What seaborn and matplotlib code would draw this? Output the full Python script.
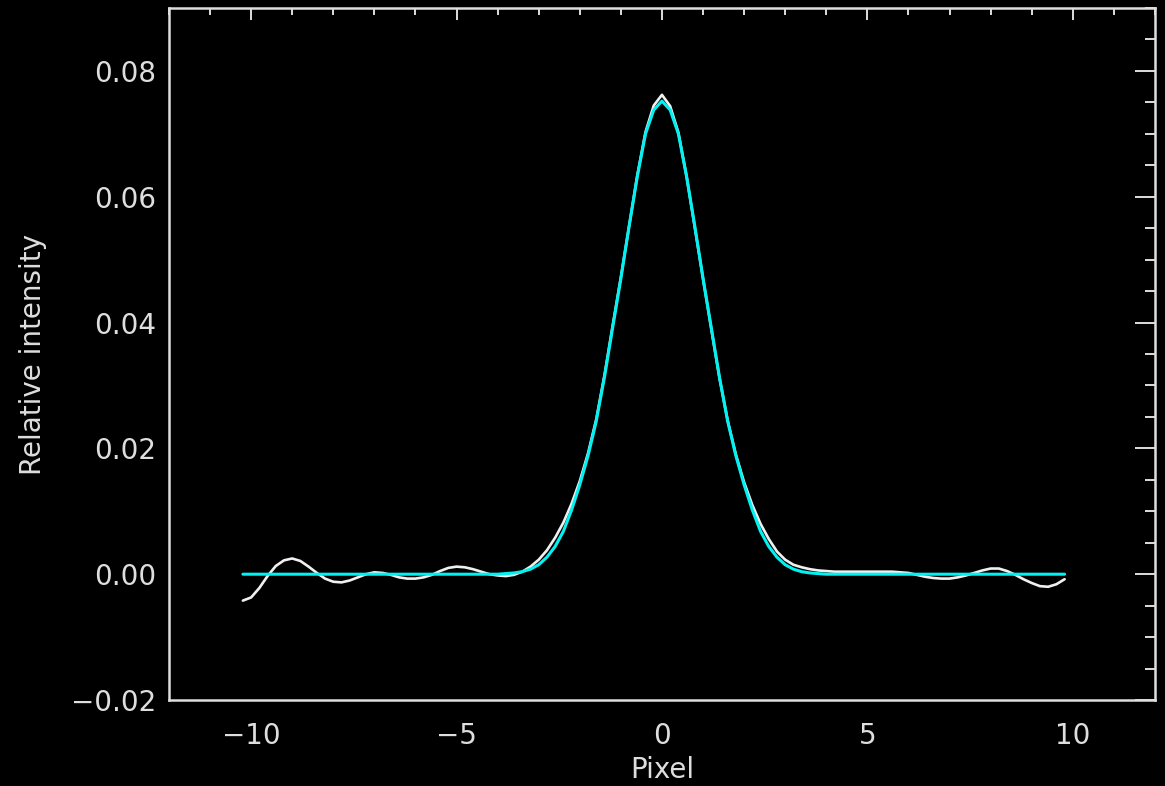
import numpy as np
import matplotlib
matplotlib.use("Agg")
import matplotlib.pyplot as plt
from matplotlib.ticker import MultipleLocator
import seaborn as sns

# sample positions (pixel offsets from centre)
pixel = np.linspace(-10.2, 9.8, 101)

# measured line profile (white)
profile = [
    -0.0042, -0.0037, -0.0022, -0.0003, 0.0013, 0.0022, 0.0025, 0.0021, 0.0012, 0.0002,
    -0.0007, -0.0012, -0.0013, -0.0010, -0.0005, 0.0000, 0.0003, 0.0002, -0.0001, -0.0005,
    -0.0007, -0.0007, -0.0005, -0.0001, 0.0005, 0.0010, 0.0012, 0.0011, 0.0008, 0.0004,
    0.0000, -0.0002,
    -0.0003, -0.0001, 0.0004, 0.0012, 0.0023, 0.0038, 0.0058, 0.0082,
    0.0112, 0.0148, 0.0192, 0.0246, 0.0316, 0.0395, 0.0472, 0.0553, 0.0634, 0.0703,
    0.0745, 0.0762,
    0.0744, 0.0702, 0.0632, 0.0551, 0.0470, 0.0390, 0.0312, 0.0244,
    0.0190, 0.0146, 0.0110, 0.0080, 0.0056, 0.0036, 0.0023, 0.0015, 0.0011, 0.0008,
    0.0006, 0.0005, 0.0004, 0.0004, 0.0004, 0.0004, 0.0004, 0.0004, 0.0004, 0.0004,
    0.0003, 0.0002, -0.0001, -0.0004, -0.0006, -0.0007, -0.0007, -0.0005, -0.0002, 0.0002,
    0.0006, 0.0009, 0.0009, 0.0005, -0.0001, -0.0008, -0.0014, -0.0019, -0.0020, -0.0016,
    -0.0008,
]

# fitted profile (cyan)
fit = [
    0.0, 0.0, 0.0, 0.0, 0.0, 0.0, 0.0, 0.0, 0.0, 0.0,
    0.0, 0.0, 0.0, 0.0, 0.0, 0.0, 0.0, 0.0, 0.0, 0.0,
    0.0, 0.0, 0.0, 0.0, 0.0, 0.0, 0.0, 0.0, 0.0, 0.0,
    0.0, 0.0,
    0.0001, 0.0002, 0.0004, 0.0008, 0.0015, 0.0027, 0.0044, 0.0068,
    0.0102, 0.0142, 0.0188, 0.0243, 0.0313, 0.0392, 0.0470, 0.0553, 0.0632, 0.0700,
    0.0738, 0.0752,
    0.0738, 0.0700, 0.0632, 0.0553, 0.0470, 0.0392, 0.0313, 0.0243,
    0.0188, 0.0142, 0.0102, 0.0068, 0.0044, 0.0027, 0.0015, 0.0008, 0.0004, 0.0002,
    0.0001, 0.0, 0.0, 0.0, 0.0, 0.0, 0.0, 0.0, 0.0, 0.0,
    0.0, 0.0, 0.0, 0.0, 0.0, 0.0, 0.0, 0.0, 0.0, 0.0,
    0.0, 0.0, 0.0, 0.0, 0.0, 0.0, 0.0, 0.0, 0.0, 0.0,
    0.0,
]

fg = "#dedede"
sns.set_theme(style="dark")
plt.rcParams.update({
    "font.family": ["DejaVu Sans"],
    "figure.facecolor": "black",
    "axes.facecolor": "black",
    "axes.edgecolor": fg,
    "axes.labelcolor": fg,
    "xtick.color": fg,
    "ytick.color": fg,
    "text.color": fg,
})

fig = plt.figure(figsize=(11.65, 7.86), dpi=100)
ax = fig.add_axes([0.145, 0.1094, 0.8464, 0.8804])

sns.lineplot(x=pixel, y=profile, ax=ax, color="#f0f0f0", linewidth=1.9, legend=False)
sns.lineplot(x=pixel, y=fit, ax=ax, color="#00f2f2", linewidth=2.2, legend=False)

ax.set_xlim(-12, 12)
ax.set_ylim(-0.02, 0.09)
ax.xaxis.set_major_locator(MultipleLocator(5))
ax.xaxis.set_minor_locator(MultipleLocator(1))
ax.yaxis.set_major_locator(MultipleLocator(0.02))
ax.yaxis.set_minor_locator(MultipleLocator(0.005))

for s in ax.spines.values():
    s.set_linewidth(1.8)
    s.set_color(fg)

ax.tick_params(axis="both", which="both", direction="in", top=True, right=True,
               width=1.4, labelsize=20, colors=fg)
ax.tick_params(axis="x", which="major", length=8.6, pad=16)
ax.tick_params(axis="x", which="minor", length=5)
ax.tick_params(axis="y", which="major", length=14.4, pad=9)
ax.tick_params(axis="y", which="minor", length=7.2)
ax.grid(False)

ax.set_xlabel("Pixel", fontsize=20, va="center")
ax.xaxis.set_label_coords(0.5, -0.101)
ax.set_ylabel("Relative intensity", fontsize=20, va="center")
ax.yaxis.set_label_coords(-0.138, 0.5)

fig.savefig("out.png", dpi=100, facecolor="black")
